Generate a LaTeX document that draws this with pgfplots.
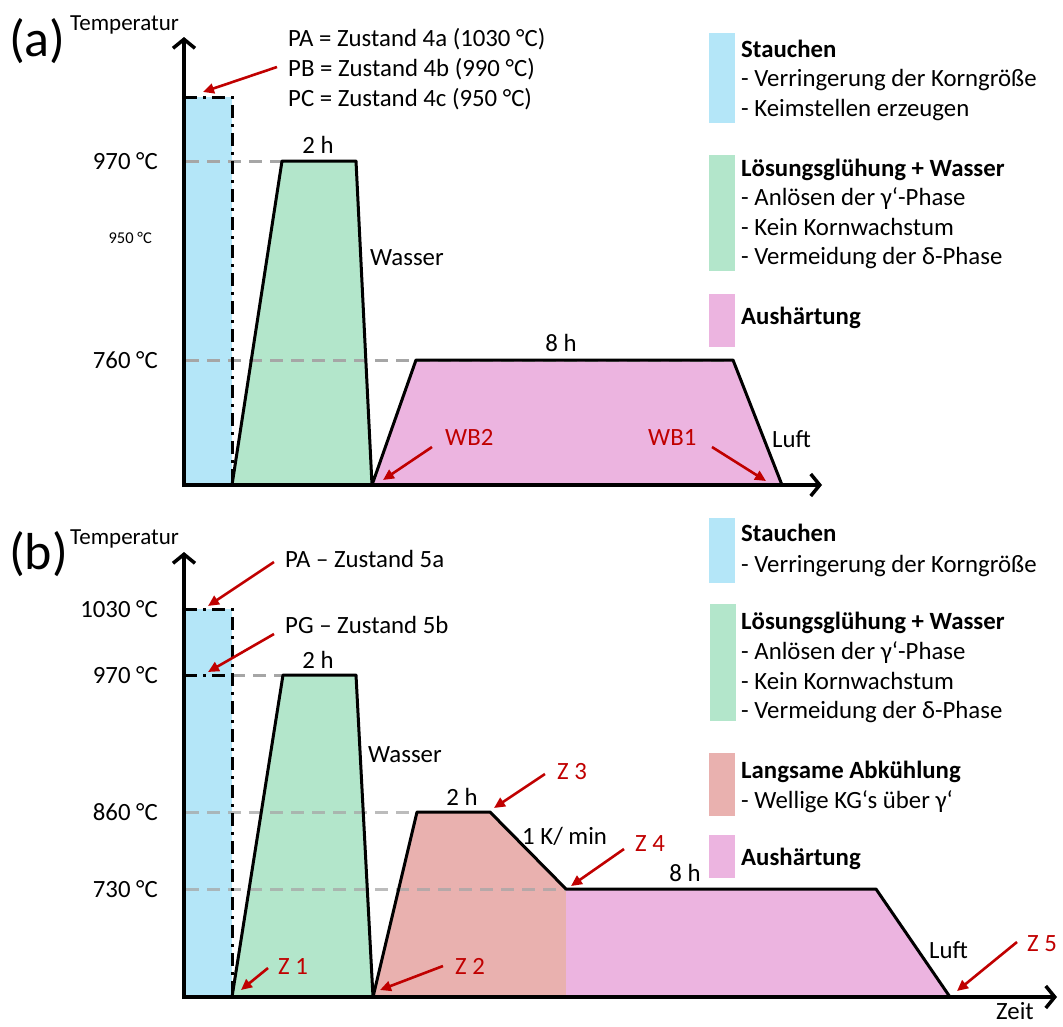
\documentclass[border=0pt]{standalone}
\usepackage{pgfplots}
\pgfplotsset{compat=1.18}
\usepackage{fontspec}
\setmainfont{Carlito}
\usetikzlibrary{arrows.meta}

\definecolor{stauch}{HTML}{B4E6F8}
\definecolor{loes}{HTML}{B3E6CB}
\definecolor{aush}{HTML}{ECB4E0}
\definecolor{abk}{HTML}{E9B1AF}
\definecolor{pfeil}{HTML}{C00000}
\definecolor{hilf}{HTML}{A6A6A6}

\tikzset{
  t/.style={inner sep=0pt, text height=16pt, text depth=0pt, font=\fontsize{24.8}{29}\selectfont},
  tb/.style={t, font=\fontsize{24.8}{29}\selectfont\bfseries},
  ts/.style={inner sep=0pt, text height=11pt, text depth=0pt, font=\fontsize{16.5}{19}\selectfont},
  tk/.style={inner sep=0pt, text height=15pt, text depth=0pt, font=\fontsize{23}{27}\selectfont},
  tr/.style={t, text=pfeil},
  big/.style={inner sep=0pt, text height=33pt, text depth=0pt, font=\fontsize{52}{58}\selectfont},
  achse/.style={line width=3.5pt, -{Straight Barb[length=9pt,width=22pt,line width=3.5pt]}},
  rot/.style={pfeil, line width=2.6pt, -{Triangle[length=11pt,width=10pt]}},
  umriss/.style={black, line width=3pt, line join=round},
  hilfslinie/.style={hilf, line width=3pt, dash pattern=on 13pt off 8pt},
  kante/.style={black, line width=3pt, dash pattern=on 13pt off 6pt on 3pt off 6pt},
}

\begin{document}
\begin{tikzpicture}
\begin{axis}[
  width=1063pt, height=1026pt, scale only axis,
  xmin=0, xmax=1063, ymin=0, ymax=1026,
  y dir=reverse, hide axis, clip=false,
]
% frame of the picture
\addplot[draw=none] coordinates {(0,0) (1063,1026)};

% ---------------- (a) ----------------
% phase areas
\addplot[fill=stauch, draw=none] coordinates {(184,97) (232,97) (232,485) (184,485)};
\addplot[fill=loes, draw=none] coordinates {(232,485) (282,161) (356,161) (372,485)};
\addplot[fill=aush, draw=none] coordinates {(372,485) (416,360) (733,360) (782,485)};
% guide lines to the temperature labels
\addplot[hilfslinie] coordinates {(186,161) (282,161)};
\addplot[hilfslinie] coordinates {(186,360) (733,360)};
% edges of the upsetting block
\addplot[kante] coordinates {(184,97) (232,97) (232,485)};
% temperature course
\addplot[umriss] coordinates {(232,485) (282,161) (356,161) (372,485) (416,360) (733,360) (782,485)};
% axes
\addplot[achse] coordinates {(184,487) (184,37)};
\addplot[achse] coordinates {(182,485) (822,485)};
% annotation arrows
\addplot[rot] coordinates {(277,67) (203,92)};
\addplot[rot] coordinates {(432,447) (383,480)};
\addplot[rot] coordinates {(712,447) (766,481)};

\node[big, anchor=west] at (axis cs:9,40) {(a)};
\node[tk, anchor=west] at (axis cs:70,23) {Temperatur};
\node[t, anchor=west] at (axis cs:288,38) {PA = Zustand 4a (1030 °C)};
\node[t, anchor=west] at (axis cs:288,68) {PB = Zustand 4b (990 °C)};
\node[t, anchor=west] at (axis cs:288,98) {PC = Zustand 4c (950 °C)};
\node[t, anchor=east] at (axis cs:158,161) {970 °C};
\node[ts, anchor=east] at (axis cs:152,238) {950 °C};
\node[t, anchor=east] at (axis cs:158,360) {760 °C};
\node[t] at (axis cs:318,145) {2 h};
\node[t, anchor=west] at (axis cs:370,257) {Wasser};
\node[t] at (axis cs:561,343) {8 h};
\node[tr, anchor=west] at (axis cs:445,437) {WB2};
\node[tr, anchor=west] at (axis cs:648,437) {WB1};
\node[t, anchor=west] at (axis cs:772,439) {Luft};

% legend (a)
\addplot[fill=stauch, draw=none] coordinates {(709,33) (735,33) (735,123) (709,123)};
\addplot[fill=loes, draw=none] coordinates {(709,155) (735,155) (735,271) (709,271)};
\addplot[fill=aush, draw=none] coordinates {(709,294) (735,294) (735,347) (709,347)};
\node[tb, anchor=west] at (axis cs:741,49) {Stauchen};
\node[t, anchor=west] at (axis cs:741,78) {- Verringerung der Korngröße};
\node[t, anchor=west] at (axis cs:741,108) {- Keimstellen erzeugen};
\node[tb, anchor=west] at (axis cs:741,168) {Lösungsglühung + Wasser};
\node[t, anchor=west] at (axis cs:741,197) {- Anlösen der γ‘-Phase};
\node[t, anchor=west] at (axis cs:741,227) {- Kein Kornwachstum};
\node[t, anchor=west] at (axis cs:741,256) {- Vermeidung der δ-Phase};
\node[tb, anchor=west] at (axis cs:741,316) {Aushärtung};

% ---------------- (b) ----------------
\addplot[fill=stauch, draw=none] coordinates {(184,609) (232,609) (232,997) (184,997)};
\addplot[fill=loes, draw=none] coordinates {(232,997) (283,675) (356,675) (373,997)};
\addplot[fill=abk, draw=none] coordinates {(373,997) (417,812) (490,812) (566,889) (566,997)};
\addplot[fill=aush, draw=none] coordinates {(566,997) (566,889) (876,889) (950,997)};
\addplot[hilfslinie] coordinates {(232,675) (283,675)};
\addplot[hilfslinie, opacity=0.75] coordinates {(186,812) (417,812)};
\addplot[hilfslinie, opacity=0.75] coordinates {(186,889) (566,889)};
\addplot[kante] coordinates {(184,609) (232,609) (232,997)};
\addplot[kante] coordinates {(184,675) (232,675)};
\addplot[umriss] coordinates {(232,997) (283,675) (356,675) (373,997) (417,812) (490,812) (566,889) (876,889) (950,997)};
\addplot[achse] coordinates {(184,999) (184,552)};
\addplot[achse] coordinates {(182,997) (1057,997)};
\addplot[rot] coordinates {(274,562) (208,606)};
\addplot[rot] coordinates {(274,634) (208,672)};
\addplot[rot] coordinates {(268,968) (241,990)};
\addplot[rot] coordinates {(443,966) (380,990)};
\addplot[rot] coordinates {(545,774) (494,808)};
\addplot[rot] coordinates {(624,849) (571,886)};
\addplot[rot] coordinates {(1017,942) (957,991)};

\node[big, anchor=west] at (axis cs:9,553) {(b)};
\node[tk, anchor=west] at (axis cs:70,537) {Temperatur};
\node[t, anchor=west] at (axis cs:285,559) {PA – Zustand 5a};
\node[t, anchor=west] at (axis cs:285,625) {PG – Zustand 5b};
\node[t, anchor=east] at (axis cs:158,609) {1030 °C};
\node[t, anchor=east] at (axis cs:158,675) {970 °C};
\node[t, anchor=east] at (axis cs:158,812) {860 °C};
\node[t, anchor=east] at (axis cs:158,889) {730 °C};
\node[t] at (axis cs:318,660) {2 h};
\node[t, anchor=west] at (axis cs:368,754) {Wasser};
\node[t] at (axis cs:462,797) {2 h};
\node[t, anchor=west] at (axis cs:522,836) {1 K/ min};
\node[t] at (axis cs:685,873) {8 h};
\node[t, anchor=west] at (axis cs:929,950) {Luft};
\node[tr, anchor=west] at (axis cs:278,966) {Z 1};
\node[tr, anchor=west] at (axis cs:455,966) {Z 2};
\node[tr, anchor=west] at (axis cs:557,771) {Z 3};
\node[tr, anchor=west] at (axis cs:635,843) {Z 4};
\node[tr, anchor=west] at (axis cs:1027,943) {Z 5};
\node[t, anchor=west] at (axis cs:996,1011) {Zeit};

% legend (b)
\addplot[fill=stauch, draw=none] coordinates {(709,518) (735,518) (735,583) (709,583)};
\addplot[fill=loes, draw=none] coordinates {(710,604) (736,604) (736,721) (710,721)};
\addplot[fill=abk, draw=none] coordinates {(709,753) (735,753) (735,816) (709,816)};
\addplot[fill=aush, draw=none] coordinates {(709,835) (735,835) (735,878) (709,878)};
\node[tb, anchor=west] at (axis cs:741,533) {Stauchen};
\node[t, anchor=west] at (axis cs:741,564) {- Verringerung der Korngröße};
\node[tb, anchor=west] at (axis cs:741,621) {Lösungsglühung + Wasser};
\node[t, anchor=west] at (axis cs:741,651) {- Anlösen der γ‘-Phase};
\node[t, anchor=west] at (axis cs:741,681) {- Kein Kornwachstum};
\node[t, anchor=west] at (axis cs:741,710) {- Vermeidung der δ-Phase};
\node[tb, anchor=west] at (axis cs:741,770) {Langsame Abkühlung};
\node[t, anchor=west] at (axis cs:741,800) {- Wellige KG‘s über γ‘};
\node[tb, anchor=west] at (axis cs:741,857) {Aushärtung};
\end{axis}
\end{tikzpicture}
\end{document}
